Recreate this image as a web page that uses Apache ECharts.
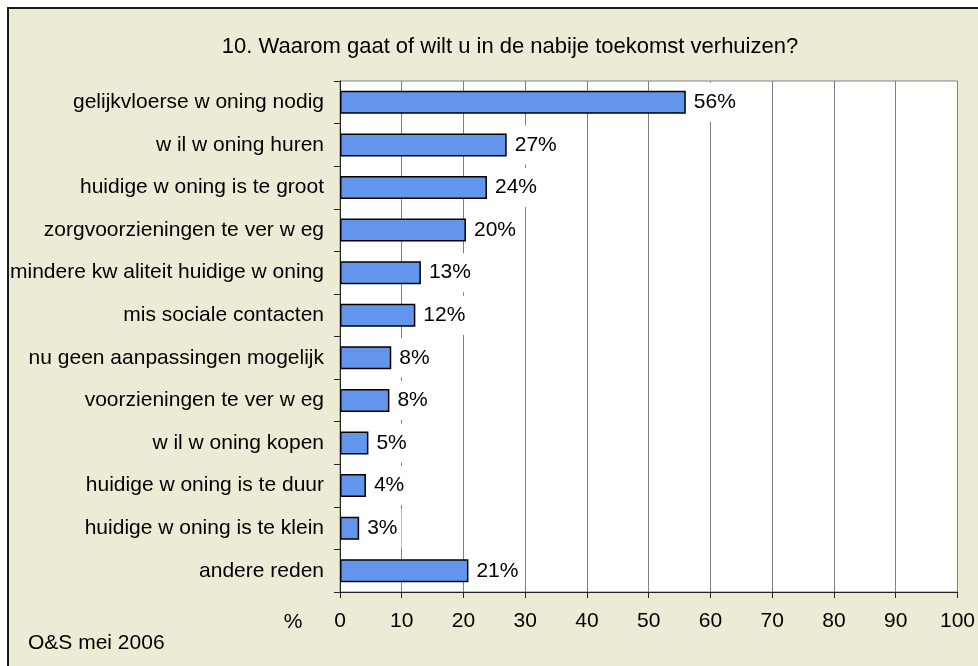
<!DOCTYPE html>
<html>
<head>
<meta charset="utf-8">
<script src="https://cdn.jsdelivr.net/npm/echarts@6/dist/echarts.min.js"></script>
<style>
  html, body { margin: 0; padding: 0; background: #fff; }
  #main { width: 978px; height: 666px; }
</style>
</head>
<body>
<div id="main"></div>
<script>
// redenen (zoals in de grafiek weergegeven)
const categories = [
  'gelijkvloerse w oning nodig',
  'w il w oning huren',
  'huidige w oning is te groot',
  'zorgvoorzieningen te ver w eg',
  'mindere kw aliteit huidige w oning',
  'mis sociale contacten',
  'nu geen aanpassingen mogelijk',
  'voorzieningen te ver w eg',
  'w il w oning kopen',
  'huidige w oning is te duur',
  'huidige w oning is te klein',
  'andere reden'
];
const values = [56.0, 27.0, 23.8, 20.4, 13.1, 12.2, 8.3, 8.0, 4.6, 4.2, 3.1, 20.8];
const xTicks = [0, 10, 20, 30, 40, 50, 60, 70, 80, 90, 100];

const titleText = '10. Waarom gaat of wilt u in de nabije toekomst verhuizen?';
const unitText = '%';
const sourceText = 'O&S mei 2006';

const font = "'Liberation Sans', Arial, sans-serif";
const bg = '#ECEBD6';

let chart = echarts.init(document.getElementById('main'), null, { renderer: 'canvas' });

let option = {
  backgroundColor: '#fff',
  animation: false,
  textStyle: { fontFamily: font },
  grid: {
    left: 340,
    right: 16,
    top: 81,
    bottom: 74,
    show: true,
    backgroundColor: '#fff',
    borderColor: '#808080',
    borderWidth: 1
  },
  xAxis: {
    type: 'value',
    min: xTicks[0],
    max: xTicks[xTicks.length - 1],
    interval: 10,
    axisLine: { show: true, lineStyle: { color: '#222', width: 1 } },
    axisTick: { show: true, length: 6, lineStyle: { color: '#222' } },
    axisLabel: { color: '#000', fontSize: 21, margin: 19, fontFamily: font },
    splitLine: { show: true, lineStyle: { color: '#808080', width: 1 } }
  },
  yAxis: {
    type: 'category',
    data: categories,
    inverse: true,
    axisLine: { show: true, lineStyle: { color: '#222', width: 1 } },
    axisTick: { show: true, length: 6, lineStyle: { color: '#222' } },
    axisLabel: { color: '#000', fontSize: 21, margin: 16, fontFamily: font }
  },
  series: [{
    type: 'bar',
    data: values,
    barWidth: 23,
    itemStyle: { color: '#6495ED', borderColor: '#000', borderWidth: 1.5 },
    label: {
      show: true,
      position: 'right',
      distance: 4,
      color: '#000',
      fontSize: 21,
      fontFamily: font,
      backgroundColor: '#fff',
      padding: [9, 4, 9, 4],
      lineHeight: 21,
      formatter: p => Math.round(p.value) + '%'
    }
  }],
  graphic: {
    elements: [
      {
        type: 'rect',
        z: -1,
        silent: true,
        shape: { x: 8, y: 8, width: 1000, height: 700 },
        style: { fill: bg, stroke: '#1a1a1a', lineWidth: 2 }
      },
      {
        type: 'text',
        x: 510, y: 47,
        style: { text: titleText, font: '22px ' + font, fill: '#000', textAlign: 'center', textVerticalAlign: 'middle' }
      },
      {
        type: 'text',
        x: 293, y: 622,
        style: { text: unitText, font: '21px ' + font, fill: '#000', textAlign: 'center', textVerticalAlign: 'middle' }
      },
      {
        type: 'text',
        x: 28, y: 643,
        style: { text: sourceText, font: '21px ' + font, fill: '#000', textAlign: 'left', textVerticalAlign: 'middle' }
      }
    ]
  }
};

chart.setOption(option);
</script>
</body>
</html>
